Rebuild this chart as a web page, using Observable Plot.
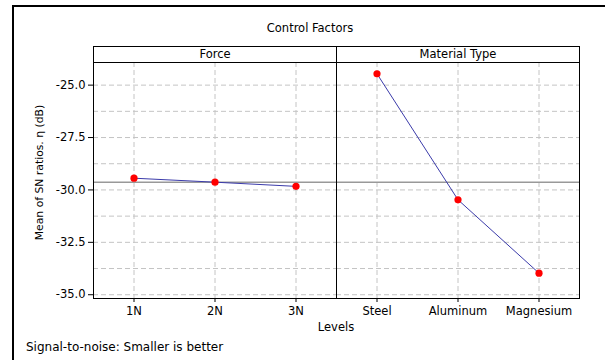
<!DOCTYPE html>
<html><head><meta charset="utf-8">
<script src="https://cdn.jsdelivr.net/npm/d3@7"></script>
<script src="https://cdn.jsdelivr.net/npm/@observablehq/plot@0.6"></script>
<style>
body{margin:0;background:#fff;font-family:"DejaVu Sans",sans-serif;color:#000;}
#wrap{position:relative;width:605px;height:360px;overflow:hidden;background:#fff;}
#border{position:absolute;left:12px;top:5px;width:640px;height:420px;border-left:2.5px solid #000;border-top:2.5px solid #000;}
#chart{position:absolute;left:0;top:0;}
.lbl{position:absolute;font-size:11.5px;line-height:14px;height:14px;white-space:nowrap;}
#title{left:0;width:620px;top:21px;text-align:center;font-size:11.5px;}
#xlabel{left:236px;width:200px;top:320px;text-align:center;}
#caption{left:26px;top:340px;font-size:12px;}
</style>
</head><body>
<div id="wrap">
  <div id="border"></div>
  <div id="chart"></div>
  <div class="lbl" id="title"></div>
  <div class="lbl" id="xlabel"></div>
  <div class="lbl" id="caption"></div>
</div>
<script>
const chartTitle = "Control Factors";
const xTitle = "Levels";
const yTitle = "Mean of SN ratios. η (dB)";
const captionText = "Signal-to-noise: Smaller is better";
const factors = ["Force", "Material Type"];
const forceLevels = ["1N", "2N", "3N"];
const forceSN = [-29.44, -29.63, -29.83];
const materialLevels = ["Steel", "Aluminum", "Magnesium"];
const materialSN = [-24.46, -30.47, -33.97];
const yTicks = [-35, -32.5, -30, -27.5, -25];
const yGrid = [-35, -33.75, -32.5, -31.25, -30, -28.75, -27.5, -26.25, -25];

const rows = [];
forceLevels.forEach((l, i) => rows.push({factor: factors[0], level: l, idx: i, sn: forceSN[i]}));
materialLevels.forEach((l, i) => rows.push({factor: factors[1], level: l, idx: i, sn: materialSN[i]}));
const grandMean = d3.mean(forceSN);

document.getElementById("title").textContent = chartTitle;
document.getElementById("xlabel").textContent = xTitle;
document.getElementById("caption").textContent = captionText;

const chart = Plot.plot({
  width: 605, height: 360,
  marginTop: 62, marginBottom: 62, marginLeft: 93, marginRight: 26,
  style: {fontFamily: "DejaVu Sans", fontSize: "11.5px", color: "#000", background: "transparent", overflow: "visible"},
  fx: {domain: factors, padding: 0, axis: null},
  x: {domain: [-0.5, 2.5], axis: null},
  y: {domain: [-35.18, -23.92], axis: null},
  marks: [
    Plot.gridY(yGrid, {stroke: "#c4c4c4", strokeOpacity: 1, strokeDasharray: "5,3"}),
    Plot.gridX([0, 1, 2], {stroke: "#c4c4c4", strokeOpacity: 1, strokeDasharray: "5,3"}),
    Plot.ruleY([grandMean], {stroke: "#999", strokeWidth: 1.5}),
    Plot.line(rows, {fx: "factor", x: "idx", y: "sn", stroke: "#3b3baa", strokeWidth: 1}),
    Plot.dot(rows, {fx: "factor", x: "idx", y: "sn", r: 3.6, fill: "#ff0000", stroke: "none"}),
    Plot.frame({stroke: "#000"}),
    Plot.frame({stroke: "#000", insetTop: -16}),
    Plot.text(factors, {fx: d => d, text: d => d, frameAnchor: "top", lineAnchor: "middle", dy: -8}),
    Plot.axisY({ticks: yTicks, tickFormat: d => d.toFixed(1), tickSize: 5, tickPadding: 3, label: null}),
    Plot.text([yTitle], {fx: () => factors[0], text: d => d, frameAnchor: "left", rotate: -90, dx: -54, dy: -8, fontSize: 10.8, textAnchor: "middle", lineAnchor: "middle"}),
    Plot.axisX({ticks: [0, 1, 2], tickFormat: () => "", tickSize: 4, label: null}),
    Plot.text(rows, {fx: "factor", x: "idx", text: "level", frameAnchor: "bottom", lineAnchor: "middle", dy: 13})
  ]
});
document.getElementById("chart").appendChild(chart);
</script>
</body></html>
